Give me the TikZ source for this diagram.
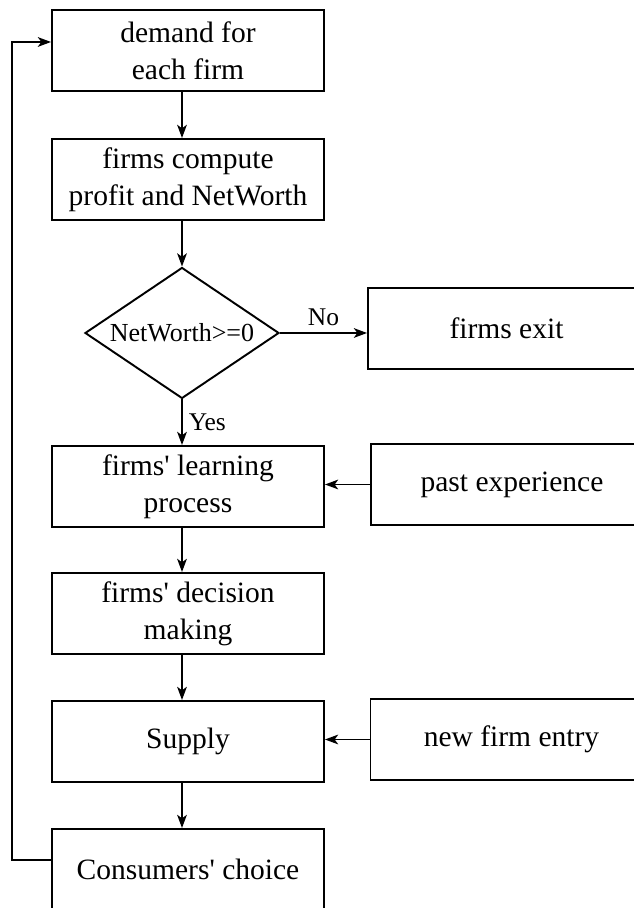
\documentclass[tikz,border=0pt]{standalone}
\usepackage{fontspec}
\setmainfont{Liberation Serif}
\usetikzlibrary{shapes.geometric, arrows.meta}
\newcommand{\apos}{\textquotesingle}
\tikzset{
    >={Stealth[length=7.5pt, width=5.5pt, inset=2pt]},
    stepbox/.style={draw, line width=1.1pt, minimum width=5.44cm, minimum height=1.62cm,
        align=center, inner sep=0pt, font=\fontsize{16.8}{21}\selectfont},
    sidebox/.style={stepbox, minimum width=5.64cm},
    testbox/.style={draw, diamond, aspect=1.48, line width=1.1pt, minimum width=3.88cm,
        minimum height=2.62cm, inner sep=0pt, font=\fontsize{14.8}{18}\selectfont},
    flow/.style={->, line width=1.1pt},
    lbl/.style={font=\fontsize{14.5}{17}\selectfont}
}
\begin{document}
\begin{tikzpicture}
    \useasboundingbox (0,0) rectangle (12.68,18.16);
    % Основная цепочка
    \node[stepbox] (demand) at (3.76, 17.15) {demand for\\each firm};
    \node[stepbox] (compute) at (3.76, 14.57) {firms compute\\profit and NetWorth};
    \node[testbox] (check) at (3.64, 11.50) {NetWorth>=0};
    \node[stepbox] (learn) at (3.76, 8.43) {firms\apos{} learning\\process};
    \node[stepbox] (decide) at (3.76, 5.89) {firms\apos{} decision\\making};
    \node[stepbox] (supply) at (3.76, 3.33) {Supply};
    \node[stepbox] (cons) at (3.76, 0.77) {Consumers\apos{} choice};
    % Боковые блоки
    \node[sidebox, minimum width=5.54cm] (exit) at (10.13, 11.59) {firms exit};
    \node[sidebox] (past) at (10.24, 8.47) {past experience};
    \node[sidebox] (entry) at (10.23, 3.37) {new firm entry};
    % Стрелки
    \draw[flow] (demand.south -| check.north) -- (compute.north -| check.north);
    \draw[flow] (compute.south -| check.north) -- (check.north);
    \draw[flow] (check.east) -- (check.east -| exit.west) node[midway, above, lbl] {No};
    \draw[flow] (check.south) -- (learn.north -| check.south) node[midway, right, lbl] {Yes};
    \draw[flow] (learn.south -| check.south) -- (decide.north -| check.south);
    \draw[flow] (decide.south -| check.south) -- (supply.north -| check.south);
    \draw[flow] (supply.south -| check.south) -- (cons.north -| check.south);
    \draw[flow] (past.west) -- (past.west -| learn.east);
    \draw[flow] (entry.west) -- (entry.west -| supply.east);
    % Обратная связь
    \draw[flow] ([yshift=0.19cm]cons.west) -- ++(-0.78,0) |- ([yshift=0.17cm]demand.west);
\end{tikzpicture}
\end{document}
